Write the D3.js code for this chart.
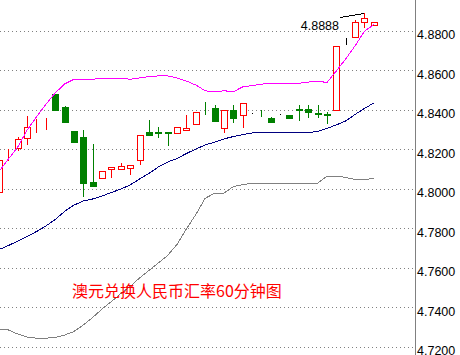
<!DOCTYPE html>
<html>
<head>
<meta charset="utf-8">
<script src="https://cdn.jsdelivr.net/npm/d3@7"></script>
<style>
  body { margin: 0; background: #fff; }
  svg { display: block; }
</style>
</head>
<body>
<div id="chart"></div>
<script>
var svgWidth = 460;
var svgHeight = 355;

// 60 minute candles, oldest first
var opens  = [4.7984, 4.8168, 4.8205, 4.8256, 4.8347, 4.8356, 4.8479, 4.8413, 4.8291, 4.8262,
              4.8034, 4.8053, 4.8099, 4.8099, 4.8104, 4.8144, 4.8286, 4.8286, 4.8284, 4.8280,
              4.8298, 4.8325, 4.8404, 4.8408, 4.8308, 4.8398, 4.8372, 4.8381, 4.8379, 4.8357,
              4.8377, 4.8374, 4.8403, 4.8401, 4.8382, 4.8377, 4.8398, 4.8748, 4.8766, 4.8845, 4.8826];
var highs  = [4.8144, 4.8200, 4.8261, 4.8367, 4.8350, 4.8358, 4.8480, 4.8418, 4.8291, 4.8296,
              4.8225, 4.8089, 4.8109, 4.8129, 4.8119, 4.8271, 4.8347, 4.8313, 4.8284, 4.8310,
              4.8372, 4.8386, 4.8440, 4.8423, 4.8396, 4.8423, 4.8431, 4.8381, 4.8398, 4.8362,
              4.8377, 4.8374, 4.8423, 4.8423, 4.8423, 4.8386, 4.8723, 4.8764, 4.8853, 4.8888, 4.8845];
var lows   = [4.7984, 4.8144, 4.8195, 4.8225, 4.8288, 4.8301, 4.8398, 4.8337, 4.8237, 4.7962,
              4.8014, 4.8053, 4.8058, 4.8099, 4.8073, 4.8124, 4.8271, 4.8261, 4.8219, 4.8280,
              4.8298, 4.8325, 4.8379, 4.8343, 4.8288, 4.8338, 4.8313, 4.8381, 4.8369, 4.8338,
              4.8377, 4.8359, 4.8347, 4.8364, 4.8364, 4.8330, 4.8398, 4.8733, 4.8766, 4.8819, 4.8826];
var closes = [4.8144, 4.8171, 4.8251, 4.8311, 4.8349, 4.8358, 4.8398, 4.8337, 4.8237, 4.8029,
              4.8014, 4.8089, 4.8109, 4.8114, 4.8119, 4.8271, 4.8271, 4.8281, 4.8281, 4.8310,
              4.8305, 4.8386, 4.8401, 4.8343, 4.8396, 4.8355, 4.8431, 4.8381, 4.8376, 4.8338,
              4.8377, 4.8359, 4.8398, 4.8386, 4.8379, 4.8374, 4.8723, 4.8748, 4.8845, 4.8862, 4.8845];

// bollinger bands
var upper  = [4.8086, 4.8149, 4.8210, 4.8296, 4.8362, 4.8426, 4.8484, 4.8529, 4.8553, 4.8553,
              4.8553, 4.8558, 4.8558, 4.8558, 4.8553, 4.8560, 4.8567, 4.8570, 4.8570, 4.8560,
              4.8544, 4.8524, 4.8495, 4.8489, 4.8495, 4.8490, 4.8514, 4.8521, 4.8528, 4.8533,
              4.8533, 4.8533, 4.8533, 4.8539, 4.8543, 4.8537, 4.8595, 4.8656, 4.8722, 4.8796, 4.8830];
var middle = [4.7691, 4.7711, 4.7734, 4.7757, 4.7782, 4.7810, 4.7843, 4.7884, 4.7916, 4.7937,
              4.7947, 4.7962, 4.7980, 4.7997, 4.8018, 4.8048, 4.8076, 4.8109, 4.8134, 4.8152,
              4.8177, 4.8200, 4.8220, 4.8235, 4.8251, 4.8263, 4.8273, 4.8281, 4.8283, 4.8283,
              4.8283, 4.8283, 4.8283, 4.8283, 4.8289, 4.8304, 4.8322, 4.8342, 4.8375, 4.8405, 4.8433];
var lower  = [4.7289, 4.7284, 4.7263, 4.7248, 4.7242, 4.7242, 4.7246, 4.7258, 4.7276, 4.7309,
              4.7347, 4.7390, 4.7428, 4.7468, 4.7504, 4.7547, 4.7585, 4.7623, 4.7661, 4.7717,
              4.7795, 4.7868, 4.7950, 4.7976, 4.7977, 4.8009, 4.8020, 4.8026, 4.8026, 4.8026,
              4.8026, 4.8026, 4.8026, 4.8026, 4.8026, 4.8063, 4.8063, 4.8056, 4.8046, 4.8043, 4.8053];

var yTicks = [4.72, 4.74, 4.76, 4.78, 4.80, 4.82, 4.84, 4.86, 4.88];
var title = "澳元兑换人民币汇率60分钟图";

var axisX = 415;

var svg = d3.select("#chart")
  .append("svg")
  .attr("width", svgWidth)
  .attr("height", svgHeight)
  .style("background", "#fff");

svg.append("defs").append("clipPath")
  .attr("id", "plot")
  .append("rect")
  .attr("x", 0).attr("y", 0)
  .attr("width", axisX).attr("height", svgHeight);

var x = d3.scaleLinear().domain([0, opens.length - 1]).range([-1, 373.8]);
var y = d3.scaleLinear().domain([4.72, 4.88]).range([346.5, 30.5]);

var px = v => Math.round(v) + 0.5;

// dotted grid
svg.append("g")
  .selectAll("line")
  .data(yTicks)
  .enter()
  .append("line")
  .attr("x1", 0)
  .attr("x2", axisX - 2)
  .attr("y1", d => px(y(d)))
  .attr("y2", d => px(y(d)))
  .attr("stroke", "#808080")
  .attr("stroke-dasharray", "1,3")
  .attr("shape-rendering", "crispEdges");

// right axis labels
var rightAxis = d3.axisRight(y)
  .tickValues(yTicks)
  .tickSize(0)
  .tickPadding(2)
  .tickFormat(d3.format(".4f"));

var yAxis = svg.append("g")
  .attr("transform", `translate(${axisX}, 0)`)
  .call(rightAxis);
yAxis.select(".domain").remove();
yAxis.selectAll("text")
  .attr("dy", "0.64em")
  .style("font-family", "'Liberation Sans', Arial, sans-serif")
  .style("font-size", "12.5px")
  .attr("fill", "#000");

svg.append("line")
  .attr("x1", axisX + 0.5).attr("x2", axisX + 0.5)
  .attr("y1", 0).attr("y2", svgHeight)
  .attr("stroke", "#808080")
  .attr("shape-rendering", "crispEdges");

var candles = opens.map((o, i) => ({
  i: i, open: o, high: highs[i], low: lows[i], close: closes[i]
}));

function candleColor(d) {
  if (d.close > d.open) return "#ff0000";
  if (d.close < d.open) return "#008000";
  return "#000000";
}

var plot = svg.append("g").attr("clip-path", "url(#plot)");

var candleGroup = plot.selectAll("g.candle")
  .data(candles)
  .enter()
  .append("g")
  .attr("class", "candle")
  .attr("shape-rendering", "crispEdges");

// wicks
candleGroup.append("line")
  .attr("x1", d => px(x(d.i)))
  .attr("x2", d => px(x(d.i)))
  .attr("y1", d => Math.round(y(d.high)))
  .attr("y2", d => Math.round(y(d.low)) + 1)
  .attr("stroke", candleColor);

// bodies
candleGroup.append("rect")
  .attr("x", d => Math.round(x(d.i)) - 3 + 0.5)
  .attr("y", d => px(y(Math.max(d.open, d.close))))
  .attr("width", 6)
  .attr("height", d => Math.round(y(Math.min(d.open, d.close))) - Math.round(y(Math.max(d.open, d.close))))
  .attr("fill", d => d.close > d.open ? "#fff" : candleColor(d))
  .attr("stroke", candleColor);

// bands
var bandLine = d3.line()
  .x((d, i) => x(i))
  .y(d => y(d));

plot.append("path")
  .datum(lower)
  .attr("d", bandLine)
  .attr("fill", "none")
  .attr("stroke", "#808080")
  .attr("stroke-width", 1)
  .attr("shape-rendering", "crispEdges");

plot.append("path")
  .datum(middle)
  .attr("d", bandLine)
  .attr("fill", "none")
  .attr("stroke", "#000080")
  .attr("stroke-width", 1)
  .attr("shape-rendering", "crispEdges");

plot.append("path")
  .datum(upper)
  .attr("d", bandLine)
  .attr("fill", "none")
  .attr("stroke", "#ff00ff")
  .attr("stroke-width", 1)
  .attr("shape-rendering", "crispEdges");

// highest price marker
var maxHigh = d3.max(highs);
var maxIndex = highs.indexOf(maxHigh);

svg.append("line")
  .attr("x1", 340)
  .attr("y1", 17.5)
  .attr("x2", px(x(maxIndex)))
  .attr("y2", Math.round(y(maxHigh)) + 0.5)
  .attr("stroke", "#000")
  .attr("shape-rendering", "crispEdges");

svg.append("text")
  .attr("x", 339)
  .attr("y", 29.5)
  .attr("text-anchor", "end")
  .style("font-family", "'Liberation Sans', Arial, sans-serif")
  .style("font-size", "12.5px")
  .attr("fill", "#000")
  .text(d3.format(".4f")(maxHigh));

// title
svg.append("text")
  .attr("x", 72)
  .attr("y", 296.5)
  .style("font-family", "'Noto Sans CJK SC', sans-serif")
  .style("font-size", "16px")
  .attr("fill", "#ff0000")
  .text(title);
</script>
</body>
</html>
